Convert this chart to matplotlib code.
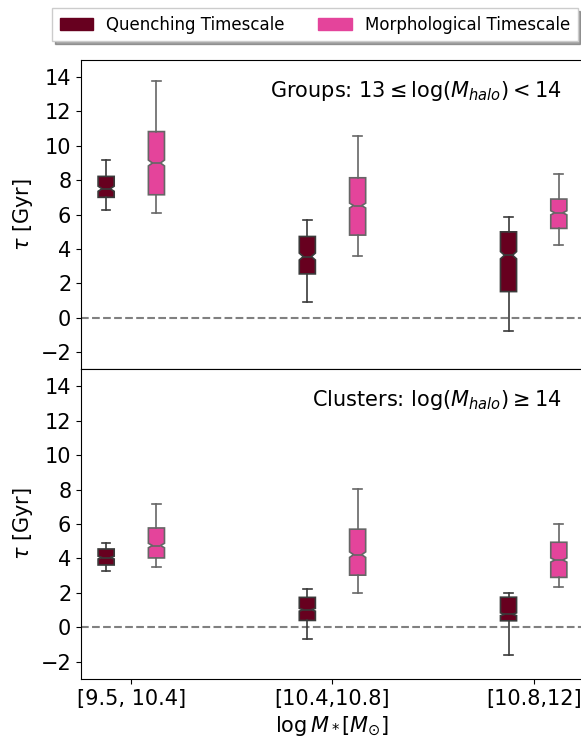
import numpy as np
import matplotlib
matplotlib.use('Agg')
from matplotlib import pyplot as plt

# mass bins on the x axis
MASS_BINS = ['[9.5, 10.4]', '[10.4,10.8]', '[10.8,12]']

# box statistics: whislo, q1, cilo, med, cihi, q3, whishi
GROUP_QUENCH = [[6.28, 7.00, 7.35, 7.50, 7.65, 8.22, 9.18],
                [0.93, 2.54, 3.35, 3.55, 3.75, 4.72, 5.69],
                [-0.80, 1.51, 3.42, 3.63, 3.84, 4.99, 5.85]]
GROUP_MORPH = [[6.08, 7.15, 8.83, 9.00, 9.17, 10.83, 13.80],
               [3.59, 4.80, 6.38, 6.52, 6.66, 8.14, 10.55],
               [4.25, 5.19, 5.98, 6.10, 6.22, 6.90, 8.34]]
CLUSTER_QUENCH = [[3.27, 3.62, 3.97, 4.05, 4.13, 4.55, 4.92],
                  [-0.67, 0.40, 0.94, 1.02, 1.10, 1.74, 2.22],
                  [-1.60, 0.38, 0.68, 0.76, 0.84, 1.75, 2.01]]
CLUSTER_MORPH = [[3.48, 4.03, 4.62, 4.75, 4.88, 5.77, 7.15],
                 [2.01, 3.03, 4.06, 4.22, 4.38, 5.70, 8.04],
                 [2.32, 2.90, 3.79, 3.91, 4.03, 4.94, 5.99]]

PANEL_TEXT = [r'Groups: $13 \leq \log(M_{halo}) < 14$',
              r'Clusters: $\log(M_{halo}) \geq 14$']

C_QUENCH = '#67001f'
C_MORPH = '#e4449b'
FS = 15
BOX_W = 0.08


def to_stats(rows):
    keys = ['whislo', 'q1', 'cilo', 'med', 'cihi', 'q3', 'whishi']
    out = []
    for r in rows:
        d = dict(zip(keys, r))
        d['fliers'] = []
        out.append(d)
    return out


def draw_boxes(ax, rows, offset, face, edge):
    pos = np.arange(len(rows)) + offset
    lp = dict(color=edge, linewidth=1.2)
    bp = ax.bxp(to_stats(rows), positions=pos, widths=BOX_W,
                capwidths=BOX_W * 0.7, shownotches=True,
                patch_artist=True, showfliers=False, manage_ticks=False,
                boxprops=dict(facecolor=face, edgecolor=edge, linewidth=1.2),
                whiskerprops=lp, capprops=lp, medianprops=lp)
    # shallow notches but short caps
    for cap, p in zip(bp['caps'], np.repeat(pos, 2)):
        cap.set_xdata([p - BOX_W * 0.27, p + BOX_W * 0.27])
    return bp


fig = plt.figure(figsize=(5.81, 7.37), dpi=100)
ax1 = fig.add_axes([0.1394, 0.4993, 0.8657, 0.4193])
ax2 = fig.add_axes([0.1394, 0.0787, 0.8657, 0.4206], sharex=ax1)

panels = [(ax1, GROUP_QUENCH, GROUP_MORPH, PANEL_TEXT[0]),
          (ax2, CLUSTER_QUENCH, CLUSTER_MORPH, PANEL_TEXT[1])]

for ax, q, m, txt in panels:
    draw_boxes(ax, q, -0.125, C_QUENCH, '#3a3a3a')
    draw_boxes(ax, m, 0.125, C_MORPH, '#666666')
    ax.axhline(0, ls='--', color='gray', lw=1.5, zorder=0)
    ax.set_ylim(-3, 15)
    ax.set_yticks(np.arange(-2, 15, 2))
    ax.set_ylabel(r'$\tau$ [Gyr]', fontsize=FS)
    ax.tick_params(labelsize=FS)
    ax.text(0.955, 0.90, txt, transform=ax.transAxes, ha='right',
            va='center', fontsize=FS)

ax1.set_xlim(-0.25, 2.25)
ax2.set_xticks(np.arange(len(MASS_BINS)))
ax2.set_xticklabels(MASS_BINS)
plt.setp(ax1.get_xticklabels(), visible=False)
ax2.set_xlabel(r'$\log M_* [M_{\odot}]$', fontsize=FS)

handles = [plt.Rectangle((0, 0), 1, 1, color=C_QUENCH),
           plt.Rectangle((0, 0), 1, 1, color=C_MORPH)]
fig.legend(handles, ['Quenching Timescale', 'Morphological Timescale'],
           loc='upper center', bbox_to_anchor=(0.542, 1.0), ncol=2,
           fontsize=12, shadow=True, fancybox=False, borderpad=0.45)

fig.savefig('out.png', dpi=100)
